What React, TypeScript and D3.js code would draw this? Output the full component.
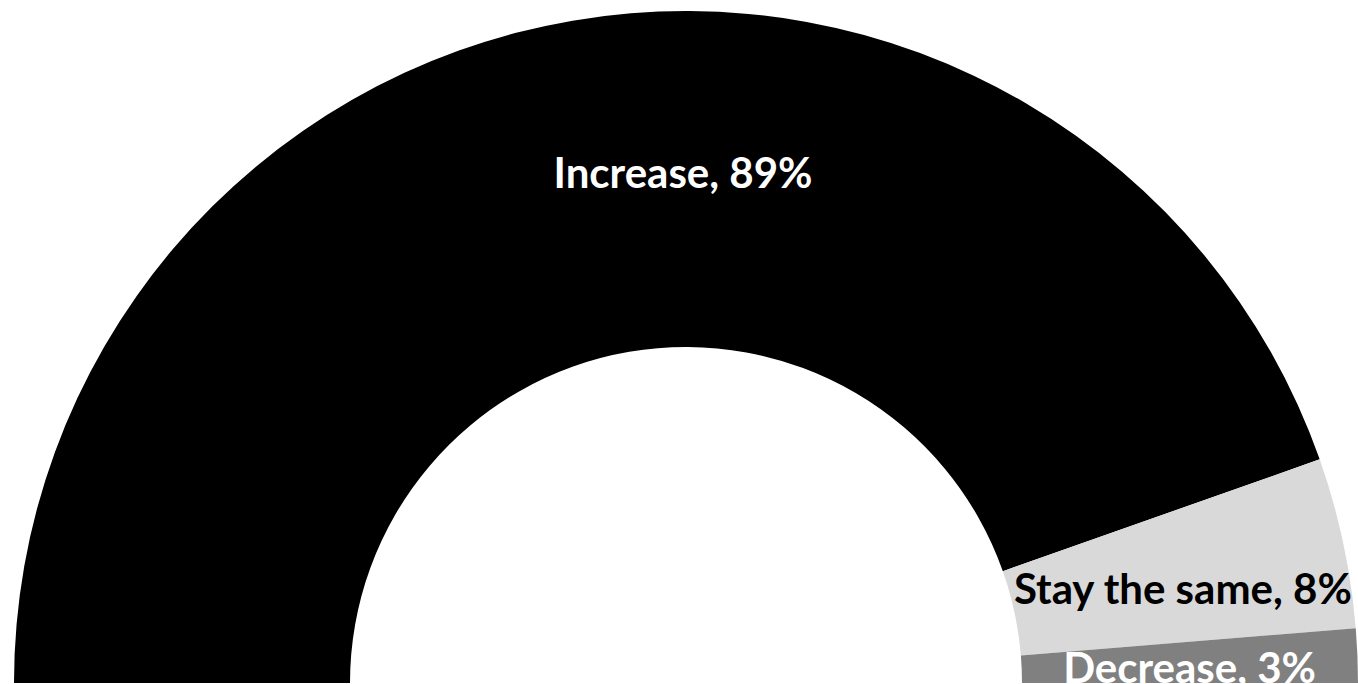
import React from "react";
import * as d3 from "d3";

const categories = ["Increase", "Stay the same", "Decrease"];
const values = [89.2, 8.2, 2.6];
const labelPercents = ["89%", "8%", "3%"];
const colors = ["#000000", "#d9d9d9", "#808080"];
const textColors = ["#ffffff", "#000000", "#ffffff"];

const W = 1358;
const H = 684;

export default function App() {
  const cx = 686;
  const cy = 683;
  const outerR = 672;
  const innerR = 336;

  const pie = d3
    .pie<number>()
    .sort(null)
    .startAngle(-Math.PI / 2)
    .endAngle(Math.PI / 2)
    .value((d) => d);
  const arcs = pie(values);
  const arc = d3.arc<d3.PieArcDatum<number>>().innerRadius(innerR).outerRadius(outerR);
  const labelR = (innerR + outerR) / 2;

  // label anchor: Increase centred at the top, others at centroids
  const labelPos = arcs.map((a, i) => {
    const ang = i === 0 ? 0 : (a.startAngle + a.endAngle) / 2;
    return [labelR * Math.sin(ang), -labelR * Math.cos(ang)];
  });
  const labelDx = [-3, 4, 0];
  const labelDy = [9, 26, 21];

  return (
    <svg
      width={W}
      height={H}
      style={{ position: "absolute", left: 0, top: 0, background: "#fff" }}
    >
      <g transform={`translate(${cx},${cy})`}>
        {arcs.map((a, i) => (
          <path key={categories[i]} d={arc(a) || ""} fill={colors[i]} />
        ))}
        {arcs.map((a, i) => (
          <text
            key={"t" + i}
            x={labelPos[i][0] + labelDx[i]}
            y={labelPos[i][1] + labelDy[i]}
            textAnchor="middle"
            fill={textColors[i]}
            fontFamily="Lato, 'Open Sans', sans-serif"
            fontWeight="bold"
            fontSize={42}
          >
            {`${categories[i]}, ${labelPercents[i]}`}
          </text>
        ))}
      </g>
    </svg>
  );
}
